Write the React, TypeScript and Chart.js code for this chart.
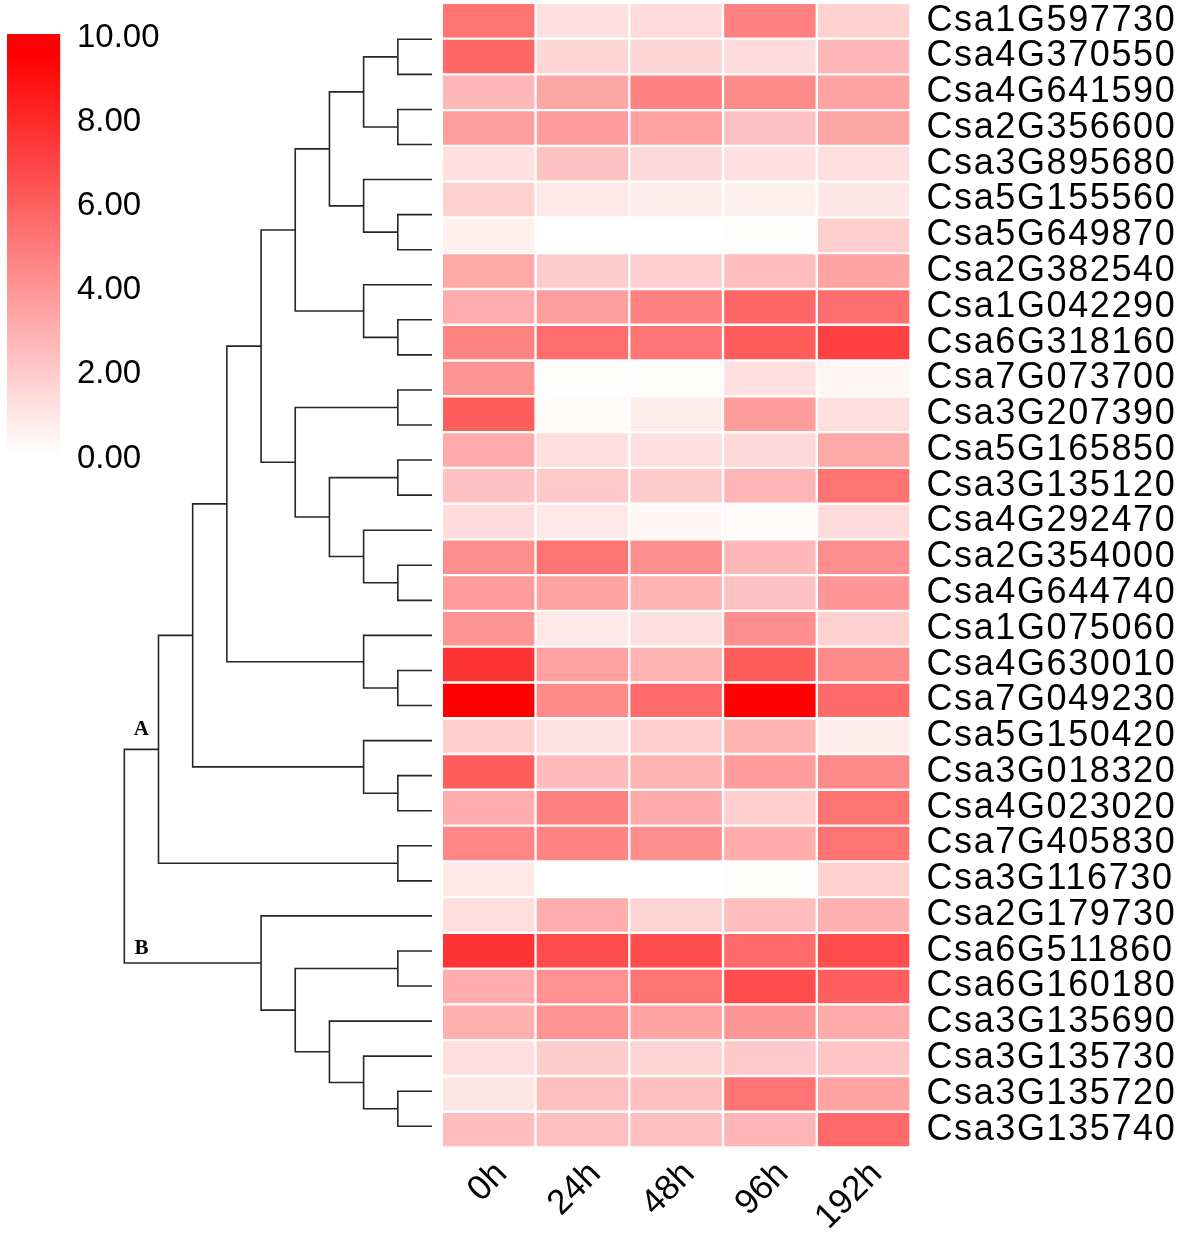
import React, { useEffect, useRef } from 'react';
import { Chart, registerables } from 'chart.js';

Chart.register(...registerables);

// ---------------- data ----------------
const genes: string[] = [
  'Csa1G597730', 'Csa4G370550', 'Csa4G641590', 'Csa2G356600', 'Csa3G895680',
  'Csa5G155560', 'Csa5G649870', 'Csa2G382540', 'Csa1G042290', 'Csa6G318160',
  'Csa7G073700', 'Csa3G207390', 'Csa5G165850', 'Csa3G135120', 'Csa4G292470',
  'Csa2G354000', 'Csa4G644740', 'Csa1G075060', 'Csa4G630010', 'Csa7G049230',
  'Csa5G150420', 'Csa3G018320', 'Csa4G023020', 'Csa7G405830', 'Csa3G116730',
  'Csa2G179730', 'Csa6G511860', 'Csa6G160180', 'Csa3G135690', 'Csa3G135730',
  'Csa3G135720', 'Csa3G135740',
];

const times: string[] = ['0h', '24h', '48h', '96h', '192h'];

const v0h: number[] = [
  5.5, 6.0, 2.8, 3.8, 1.2, 1.8, 0.6, 3.4, 3.2, 4.8,
  4.2, 6.4, 3.3, 2.4, 1.4, 4.4, 3.9, 4.1, 8.0, 10.0,
  1.9, 6.4, 3.2, 4.7, 0.9, 1.3, 8.0, 3.2, 3.1, 1.3,
  1.0, 2.6,
];
const v24h: number[] = [
  1.2, 1.6, 3.5, 3.9, 2.4, 0.9, 0.0, 2.0, 3.8, 5.7,
  0.1, 0.2, 1.3, 2.1, 0.9, 5.5, 3.6, 0.9, 3.7, 4.6,
  1.1, 2.7, 5.0, 4.8, 0.0, 3.2, 7.0, 4.3, 4.2, 2.0,
  2.5, 2.5,
];
const v48h: number[] = [
  1.4, 1.6, 4.9, 3.7, 1.5, 0.8, 0.0, 1.9, 4.9, 5.4,
  0.1, 0.8, 1.2, 2.0, 0.3, 4.4, 3.0, 1.2, 3.0, 5.8,
  1.9, 3.0, 3.3, 4.4, 0.0, 1.7, 7.0, 5.5, 3.6, 1.7,
  2.5, 2.5,
];
const v96h: number[] = [
  5.0, 1.4, 4.6, 2.4, 1.2, 0.6, 0.1, 2.6, 6.0, 6.4,
  1.2, 3.9, 1.5, 2.9, 0.2, 2.8, 2.4, 4.4, 6.4, 10.0,
  3.0, 3.9, 1.9, 3.2, 0.1, 2.6, 5.8, 7.0, 4.1, 2.1,
  5.5, 2.9,
];
const v192h: number[] = [
  1.8, 2.8, 3.6, 3.5, 1.3, 1.0, 1.9, 3.6, 5.7, 7.5,
  0.4, 1.3, 3.4, 5.5, 1.4, 4.4, 4.1, 1.8, 4.6, 5.8,
  0.8, 4.6, 5.5, 5.5, 1.8, 3.1, 7.0, 6.3, 3.3, 2.3,
  3.6, 5.9,
];

// colour bar ticks
const colorMin = 0;
const colorMax = 10;
const colorStep = 2;

// dendrogram: [childA, childB, level]; leaves are 0..31, merge i creates node 32 + i
const merges: [number, number, number][] = [
  [0, 1, 1], [2, 3, 1], [32, 33, 2], [5, 6, 1], [4, 35, 2], [34, 36, 3],
  [8, 9, 1], [7, 38, 2], [37, 39, 4], [10, 11, 1], [12, 13, 1], [15, 16, 1],
  [14, 43, 2], [42, 44, 3], [41, 45, 4], [40, 46, 5], [18, 19, 1], [17, 48, 2],
  [47, 49, 6], [21, 22, 1], [20, 51, 2], [50, 52, 7], [23, 24, 1], [53, 54, 8],
  [26, 27, 1], [30, 31, 1], [29, 57, 2], [28, 58, 3], [56, 59, 4], [25, 60, 5],
  [55, 61, 9],
];
const clusterNames: { node: number; text: string; parentLevel: number; dy: number }[] = [
  { node: 55, text: 'A', parentLevel: 9, dy: -20 },
  { node: 61, text: 'B', parentLevel: 9, dy: -14 },
];

// ---------------- helpers ----------------
const W = 1181;
const H = 1236;
const SANS = '"Liberation Sans", Arial, Helvetica, sans-serif';
const SERIF = '"Liberation Serif", "Times New Roman", serif';

const toColor = (v: number) => {
  const t = Math.max(colorMin, Math.min(colorMax, v)) / (colorMax - colorMin);
  const c = Math.round(255 * (1 - t));
  return `rgb(255,${c},${c})`;
};

const noPad = (s: any) => {
  s.paddingTop = 0;
  s.paddingBottom = 0;
  s.paddingLeft = 0;
  s.paddingRight = 0;
};

export default function App() {
  const heatRef = useRef<HTMLCanvasElement>(null);
  const dendRef = useRef<HTMLCanvasElement>(null);
  const barRef = useRef<HTMLCanvasElement>(null);

  useEffect(() => {
    Chart.defaults.font.family = SANS;
    const charts: Chart[] = [];

    // ---------- heatmap ----------
    const cols = [v0h, v24h, v48h, v96h, v192h];
    charts.push(
      new Chart(heatRef.current as HTMLCanvasElement, {
        type: 'bar',
        data: {
          labels: genes,
          datasets: cols.map((vals, ci) => ({
            label: times[ci],
            data: vals.map(() => [ci, ci + 1]) as any,
            backgroundColor: vals.map(toColor),
            borderColor: '#ffffff',
            borderWidth: 1.5,
            borderSkipped: false,
            barPercentage: 1,
            categoryPercentage: 1,
            grouped: false,
          })),
        },
        options: {
          indexAxis: 'y',
          responsive: false,
          animation: false,
          events: [],
          devicePixelRatio: 1,
          layout: { padding: { left: 441.8, top: 2.8, right: 0, bottom: 0 } },
          plugins: { legend: { display: false }, tooltip: { enabled: false } },
          scales: {
            x: { type: 'linear', min: 0, max: times.length, display: false },
            xl: {
              type: 'category',
              labels: times,
              position: 'bottom',
              offset: true,
              grid: { display: false, drawTicks: false },
              border: { display: false },
              ticks: {
                autoSkip: false,
                minRotation: 45,
                maxRotation: 45,
                padding: 6,
                labelOffset: 13,
                color: '#000',
                font: { size: 35, family: SANS },
              },
              afterFit: (s: any) => {
                s.height = H - 1147.5;
                noPad(s);
              },
            } as any,
            y: {
              type: 'category',
              position: 'right',
              offset: true,
              grid: { display: false, drawTicks: false },
              border: { display: false },
              ticks: {
                autoSkip: false,
                padding: 16,
                color: '#000',
                font: { size: 36, family: SANS },
                z: 1,
              },
              afterFit: (s: any) => {
                s.width = W - 910.5;
                noPad(s);
              },
            },
          },
        },
        plugins: [
          {
            id: 'labelSpacing',
            afterDatasetsDraw(chart: any) {
              chart.ctx.letterSpacing = '1.6px';
            },
            afterDraw(chart: any) {
              chart.ctx.letterSpacing = '0px';
            },
          },
        ],
      } as any)
    );

    // ---------- dendrogram ----------
    const pos: { x: number; y: number }[] = genes.map((_, i) => ({ x: 0, y: i }));
    merges.forEach(([a, b, h]) => pos.push({ x: h, y: (pos[a].y + pos[b].y) / 2 }));
    const maxLevel = Math.max(...merges.map((m) => m[2]));
    charts.push(
      new Chart(dendRef.current as HTMLCanvasElement, {
        type: 'scatter',
        data: {
          datasets: merges.map(([a, b, h]) => ({
            data: [
              { x: pos[a].x, y: pos[a].y },
              { x: h, y: pos[a].y },
              { x: h, y: pos[b].y },
              { x: pos[b].x, y: pos[b].y },
            ],
            showLine: true,
            borderColor: '#262626',
            borderWidth: 1.6,
            pointRadius: 0,
            tension: 0,
            fill: false,
            clip: false,
          })),
        },
        options: {
          responsive: false,
          animation: false,
          events: [],
          devicePixelRatio: 1,
          layout: { padding: { left: 124.3, right: W - 432, top: 39.3, bottom: H - 1126.3 } },
          plugins: { legend: { display: false }, tooltip: { enabled: false } },
          scales: {
            x: { type: 'linear', min: 0, max: maxLevel, reverse: true, display: false },
            y: { type: 'linear', min: 0, max: genes.length - 1, reverse: true, display: false },
          },
        },
        plugins: [
          {
            id: 'clusterNames',
            afterDatasetsDraw(chart: any) {
              const { ctx, scales } = chart;
              ctx.save();
              ctx.fillStyle = '#000';
              ctx.font = `bold 21px ${SERIF}`;
              ctx.textAlign = 'center';
              ctx.textBaseline = 'middle';
              clusterNames.forEach((c) => {
                const x = scales.x.getPixelForValue(c.parentLevel - 0.5);
                const y = scales.y.getPixelForValue(pos[c.node].y) + c.dy;
                ctx.fillText(c.text, x, y);
              });
              ctx.restore();
            },
          },
        ],
      } as any)
    );

    // ---------- colour bar ----------
    charts.push(
      new Chart(barRef.current as HTMLCanvasElement, {
        type: 'bar',
        data: {
          labels: [''],
          datasets: [
            {
              data: [[colorMin, colorMax]] as any,
              backgroundColor: (c: any) => {
                const ch = c.chart;
                const ys = ch.scales && ch.scales.y;
                if (!ys || !ch.chartArea) return 'red';
                const y0 = ys.getPixelForValue(colorMin);
                const y1 = ys.getPixelForValue(colorMax);
                if (!Number.isFinite(y0) || !Number.isFinite(y1)) return 'red';
                const g = ch.ctx.createLinearGradient(0, y0, 0, y1);
                g.addColorStop(0, '#ffffff');
                g.addColorStop(0.95, '#ff0000');
                g.addColorStop(1, '#ff0000');
                return g;
              },
              borderWidth: 0,
              barPercentage: 1,
              categoryPercentage: 1,
            },
          ],
        },
        options: {
          responsive: false,
          animation: false,
          events: [],
          devicePixelRatio: 1,
          layout: { padding: { left: 7, top: 34, right: 0, bottom: H - 455 } },
          plugins: { legend: { display: false }, tooltip: { enabled: false } },
          scales: {
            x: { display: false },
            y: {
              position: 'right',
              min: colorMin,
              max: colorMax,
              grid: { display: false, drawTicks: false },
              border: { display: false },
              ticks: {
                stepSize: colorStep,
                padding: 16.7,
                labelOffset: 3.5,
                color: '#000',
                font: { size: 33, family: SANS },
                callback: (v: any) => Number(v).toFixed(2),
              },
              afterFit: (s: any) => {
                s.width = W - 60.3;
                noPad(s);
              },
            },
          },
        },
      } as any)
    );

    return () => charts.forEach((c) => c.destroy());
  }, []);

  const cs: React.CSSProperties = { position: 'absolute', left: 0, top: 0, width: W, height: H };
  return (
    <div style={{ position: 'fixed', left: 0, top: 0, width: W, height: H, background: '#fff' }}>
      <canvas ref={barRef} width={W} height={H} style={cs} />
      <canvas ref={dendRef} width={W} height={H} style={cs} />
      <canvas ref={heatRef} width={W} height={H} style={cs} />
    </div>
  );
}
